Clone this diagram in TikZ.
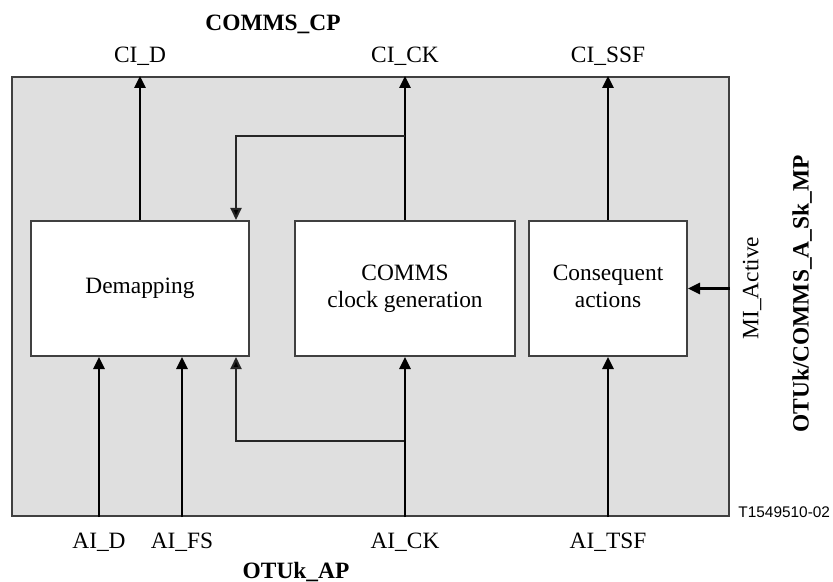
\documentclass[tikz,border=0pt]{standalone}
\usepackage{fontspec}
\setmainfont{Liberation Serif}
\newfontfamily\tnum{Liberation Sans}
\usetikzlibrary{arrows.meta}
\definecolor{bggray}{HTML}{DFDFDF}
\definecolor{edgegray}{HTML}{404040}
\begin{document}
\begin{tikzpicture}[x=0.5pt,y=-0.5pt,
  every node/.style={font=\fontsize{11.7}{13.5}\selectfont},
  fblock/.style={draw=edgegray, line width=1pt, fill=bggray, minimum width=358.5pt, minimum height=219.5pt, inner sep=0pt},
  proc/.style={draw=edgegray, line width=1pt, fill=white, minimum height=67.5pt, inner sep=0pt, align=center},
  sig/.style={line width=1.3pt, -{Triangle[length=6pt,width=5.5pt]}},
  branch/.style={line width=1pt, draw=black!85, -{Triangle[length=6pt,width=5.5pt,fill=black]}},
  lbl/.style={anchor=base, inner sep=0pt},
  ttl/.style={anchor=base, inner sep=0pt, font=\fontsize{11.7}{14}\selectfont\bfseries}]
\useasboundingbox (0,0) rectangle (833,582);

\node[fblock] (fb) at (370.5,296.5) {};
\node[proc, minimum width=109pt] (dem) at (140,288.5) {Demapping};
\node[proc, minimum width=110pt] (clk) at (405,288.5) {\raisebox{1pt}{\begin{tabular}{@{}c@{}}COMMS\\clock generation\end{tabular}}};
\node[proc, minimum width=79pt] (con) at (608,288.5) {\raisebox{1pt}{\begin{tabular}{@{}c@{}}Consequent\\actions\end{tabular}}};

% labels
\node[ttl] (cp) at (273,31) {COMMS\_CP};
\node[lbl] (cid) at (140,63) {CI\_D};
\node[lbl] (cick) at (405,63) {CI\_CK};
\node[lbl] (cissf) at (608,63) {CI\_SSF};
\node[lbl] (aid) at (99,548) {AI\_D};
\node[lbl] (aifs) at (182,548) {AI\_FS};
\node[lbl] (aick) at (405,548) {AI\_CK};
\node[lbl] (aitsf) at (608,548) {AI\_TSF};
\node[ttl] (ap) at (296,578) {OTUk\_AP};
\node[rotate=90, inner sep=0pt] (mia) at (752,288) {MI\_Active};
\node[rotate=90, inner sep=0pt, font=\fontsize{11.7}{14}\selectfont\bfseries] (mp) at (802,294) {OTUk/COMMS\_A\_Sk\_MP};
\node[anchor=base west, inner sep=0pt, font=\tnum\fontsize{7.7}{9}\selectfont] (tn) at (738,517) {T1549510-02};

% outputs
\draw[sig] (dem.north) -- (dem.north |- fb.north);
\draw[sig] (clk.north) -- (clk.north |- fb.north);
\draw[sig] (con.north) -- (con.north |- fb.north);

% clock branches
\path (clk.north) ++(0,-84) coordinate (bt);
\coordinate (dn) at ([xshift=-7pt]dem.north east);
\draw[branch] (bt) -| (dn);
\path (clk.south) ++(0,84) coordinate (bb);
\coordinate (ds) at ([xshift=-7pt]dem.south east);
\draw[branch] (bb) -| (ds);

% inputs
\draw[sig] (aid.north |- fb.south) -- (aid.north |- dem.south);
\draw[sig] (aifs.north |- fb.south) -- (aifs.north |- dem.south);
\draw[sig] (clk.south |- fb.south) -- (clk.south);
\draw[sig] (con.south |- fb.south) -- (con.south);
\draw[sig] (fb.east |- con.east) -- (con.east);
\end{tikzpicture}
\end{document}
